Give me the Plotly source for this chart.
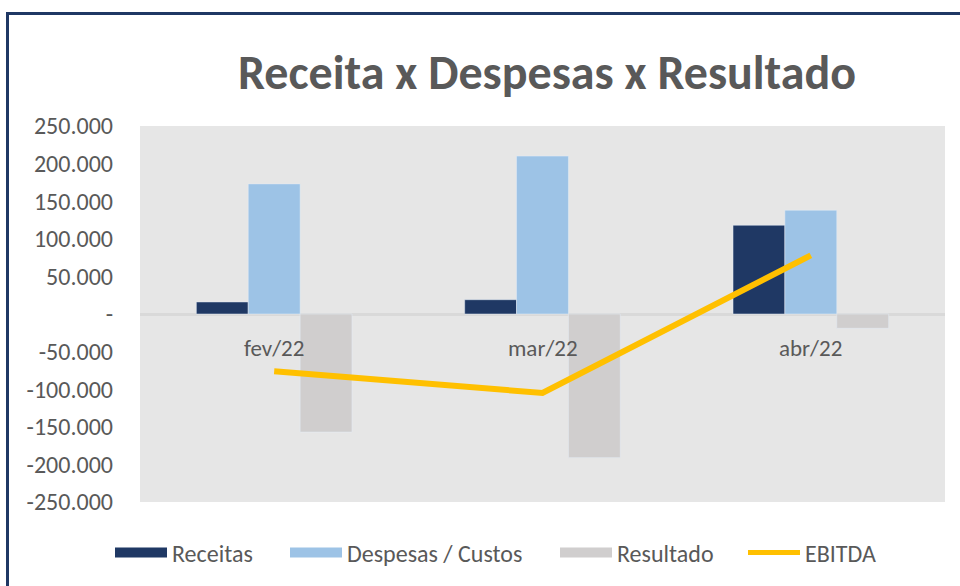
import plotly.graph_objects as go

categories = ["fev/22", "mar/22", "abr/22"]
receitas = [16000, 19000, 118000]
despesas = [173000, 210000, 138000]
resultado = [-157000, -191000, -19000]
ebitda = [-76000, -105000, 78000]

series_names = ["Receitas", "Despesas / Custos", "Resultado", "EBITDA"]
series_colors = ["#1F3864", "#9DC3E6", "#D0CECE", "#FFC000"]

tick_vals = [250000, 200000, 150000, 100000, 50000, 0, -50000, -100000, -150000, -200000, -250000]
tick_text = ["250.000", "200.000", "150.000", "100.000", "50.000", "-", "-50.000", "-100.000", "-150.000", "-200.000", "-250.000"]

FONT = "Carlito, 'Liberation Sans Narrow', 'Open Sans', sans-serif"
GRAY = "#595959"

fig = go.Figure()
for vals, name, color in zip([receitas, despesas, resultado], series_names[:3], series_colors[:3]):
    fig.add_trace(go.Bar(x=categories, y=vals, name=name, marker_color=color,
                         legendgroup=name, showlegend=False))
fig.add_trace(go.Scatter(x=categories, y=ebitda, name=series_names[3], mode="lines",
                         line=dict(color=series_colors[3], width=6), showlegend=False,
                         legendgroup=series_names[3]))

legend_ids = ["legend", "legend2", "legend3", "legend4"]
legend_left = [110, 285, 555, 743]

# legend entries (wide swatches like the original), one legend box each
for i, (name, color) in enumerate(zip(series_names, series_colors)):
    fig.add_trace(go.Scatter(x=[None], y=[None], name=name, mode="lines",
                             legendgroup=name, hoverinfo="skip", legend=legend_ids[i],
                             line=dict(color=color, width=12 if i < 3 else 5)))

for c in categories:
    fig.add_annotation(x=c, y=0, text=c, showarrow=False, yanchor="top", yshift=-18,
                       font=dict(family=FONT, size=23, color=GRAY))

W, H = 960, 586
ml, mr, mt, mb = 140, 15, 126, 84
pw, ph = W - ml - mr, H - mt - mb
def px(x):
    return (x - ml) / pw
def py(y):
    return 1 - (y - mt) / ph

fig.add_shape(type="path", xref="paper", yref="paper",
              path=f"M {px(7.5)} {py(600)} L {px(7.5)} {py(13.5)} L {px(970)} {py(13.5)}",
              line=dict(color="#1F3864", width=3))

legend_style = {}
for lid, left in zip(legend_ids, legend_left):
    legend_style[lid] = dict(orientation="h", x=left / W, xref="container", xanchor="left",
                             y=1 - 553 / H, yref="container", yanchor="middle",
                             font=dict(family=FONT, size=24, color=GRAY), itemwidth=52,
                             bgcolor="rgba(0,0,0,0)")

fig.update_layout(
    width=W, height=H,
    margin=dict(l=ml, r=mr, t=mt, b=mb),
    paper_bgcolor="white",
    plot_bgcolor="#E6E6E6",
    barmode="group",
    bargap=0.42,
    bargroupgap=0,
    font=dict(family=FONT, color=GRAY),
    title=dict(text="<b>Receita x Despesas x Resultado</b>", x=547 / W, xanchor="center",
               xref="container", y=1 - 72 / H, yanchor="middle",
               font=dict(family=FONT, size=48, color=GRAY)),
    showlegend=True,
    xaxis=dict(range=[-0.5, 2.5], showticklabels=False, showgrid=False, showline=False, zeroline=False),
    yaxis=dict(range=[-250000, 250000], tickvals=tick_vals, ticktext=tick_text, showgrid=False,
               zeroline=True, zerolinecolor="#D9D9D9", zerolinewidth=3,
               tickfont=dict(family=FONT, size=24, color=GRAY), ticklabelstandoff=26),
    **legend_style,
)

fig.write_html("out.html", config={"displayModeBar": False},
               post_script="document.body.style.margin='0px';")
